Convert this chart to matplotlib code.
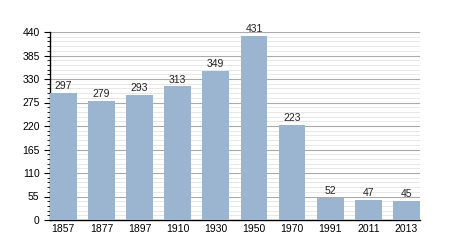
import matplotlib
matplotlib.use('Agg')
import matplotlib.pyplot as plt
from matplotlib.ticker import MultipleLocator

plt.rcParams['font.family'] = ['Liberation Sans', 'DejaVu Sans']

years = ['1857', '1877', '1897', '1910', '1930', '1950', '1970', '1991', '2011', '2013']
population = [297, 279, 293, 313, 349, 431, 223, 52, 47, 45]

fig = plt.figure(figsize=(4.5, 2.5), dpi=100)
ax = fig.add_axes([0.111, 0.12, 0.822, 0.752])

x = range(len(years))
bars = ax.bar(x, population, width=0.7, color='#9bb4cf', zorder=3)
for xi, v in zip(x, population):
    ax.text(xi, v + 4, str(v), ha='center', va='bottom', fontsize=7.5, color='#222222')

ax.set_xlim(-0.35, len(years) - 0.65)
ax.set_ylim(0, 440)
ax.set_xticks(list(x))
ax.set_xticklabels(years)
ax.yaxis.set_major_locator(MultipleLocator(55))
ax.yaxis.set_minor_locator(MultipleLocator(11))
ax.grid(axis='y', which='major', color='#aaaaaa', linewidth=0.8, zorder=0)
ax.grid(axis='y', which='minor', color='#e3e3e3', linewidth=0.6, zorder=0)

for s in ['top', 'right']:
    ax.spines[s].set_visible(False)
ax.spines['left'].set_linewidth(1)
ax.spines['bottom'].set_linewidth(1)
ax.tick_params(axis='x', length=0, labelsize=7.5, pad=3)
ax.tick_params(axis='y', which='major', length=4, labelsize=7.5)
ax.tick_params(axis='y', which='minor', length=2)

fig.savefig('out.png', dpi=100)
